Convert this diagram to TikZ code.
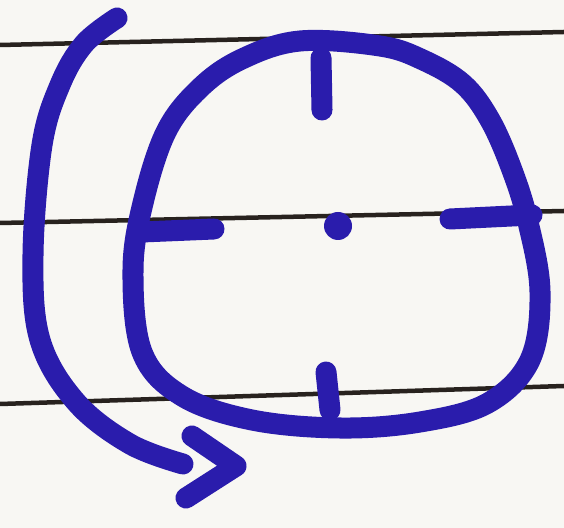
\documentclass[tikz,border=0pt]{standalone}
\usepackage{tikz}
\usetikzlibrary{arrows.meta, positioning}
\definecolor{ink}{RGB}{42,28,172}
\definecolor{paper}{RGB}{248,247,243}
\definecolor{rule}{RGB}{40,34,30}
\tikzset{
  pen/.style={draw=ink, line width=0.21cm, line cap=round, line join=round},
  ruling/.style={draw=rule, line width=0.045cm}
}
\begin{document}
\begin{tikzpicture}[x=0.01cm, y=-0.01cm]
			\fill[paper] (0,0) rectangle (564,528);
			\useasboundingbox (0,0) rectangle (564,528);
			% ruled lines of the paper
			\draw[ruling] (0,45) -- (564,32);
			\draw[ruling] (0,223) -- (564,211);
			\draw[ruling] (0,404) -- (564,386);
			% dial
			\coordinate (O) at (338,226);
			\draw[pen] plot[smooth cycle, tension=0.6] coordinates {(300,41) (380,46) (423,60) (463,84) (490,120) (512,170) (528,222) (540,292) (530,360) (488,403) (420,422) (340,428) (252,420) (182,396) (142,352) (133,270) (143,203) (166,132) (200,88) (242,59)};
			\fill[ink] (O) circle (14);
			\draw[pen] (321,58) coordinate (T1) -- (322,110) coordinate (T2);
			\draw[pen] (142,232) coordinate (L1) -- (214,229) coordinate (L2);
			\draw[pen] (450,219) coordinate (R1) -- (532,215) coordinate (R2);
			\draw[pen] (326,372) coordinate (B1) -- (330,410) coordinate (B2);
			% turning arrow
			\draw[pen] plot[smooth, tension=0.6] coordinates {(117,18) (84,44) (60,85) (42,145) (33,255) (40,340) (76,402) (130,444) (183,464)};
			\draw[pen] (192,436) coordinate (H1) -- (236,466) coordinate (H2) -- (186,498) coordinate (H3);
		\end{tikzpicture}
\end{document}
